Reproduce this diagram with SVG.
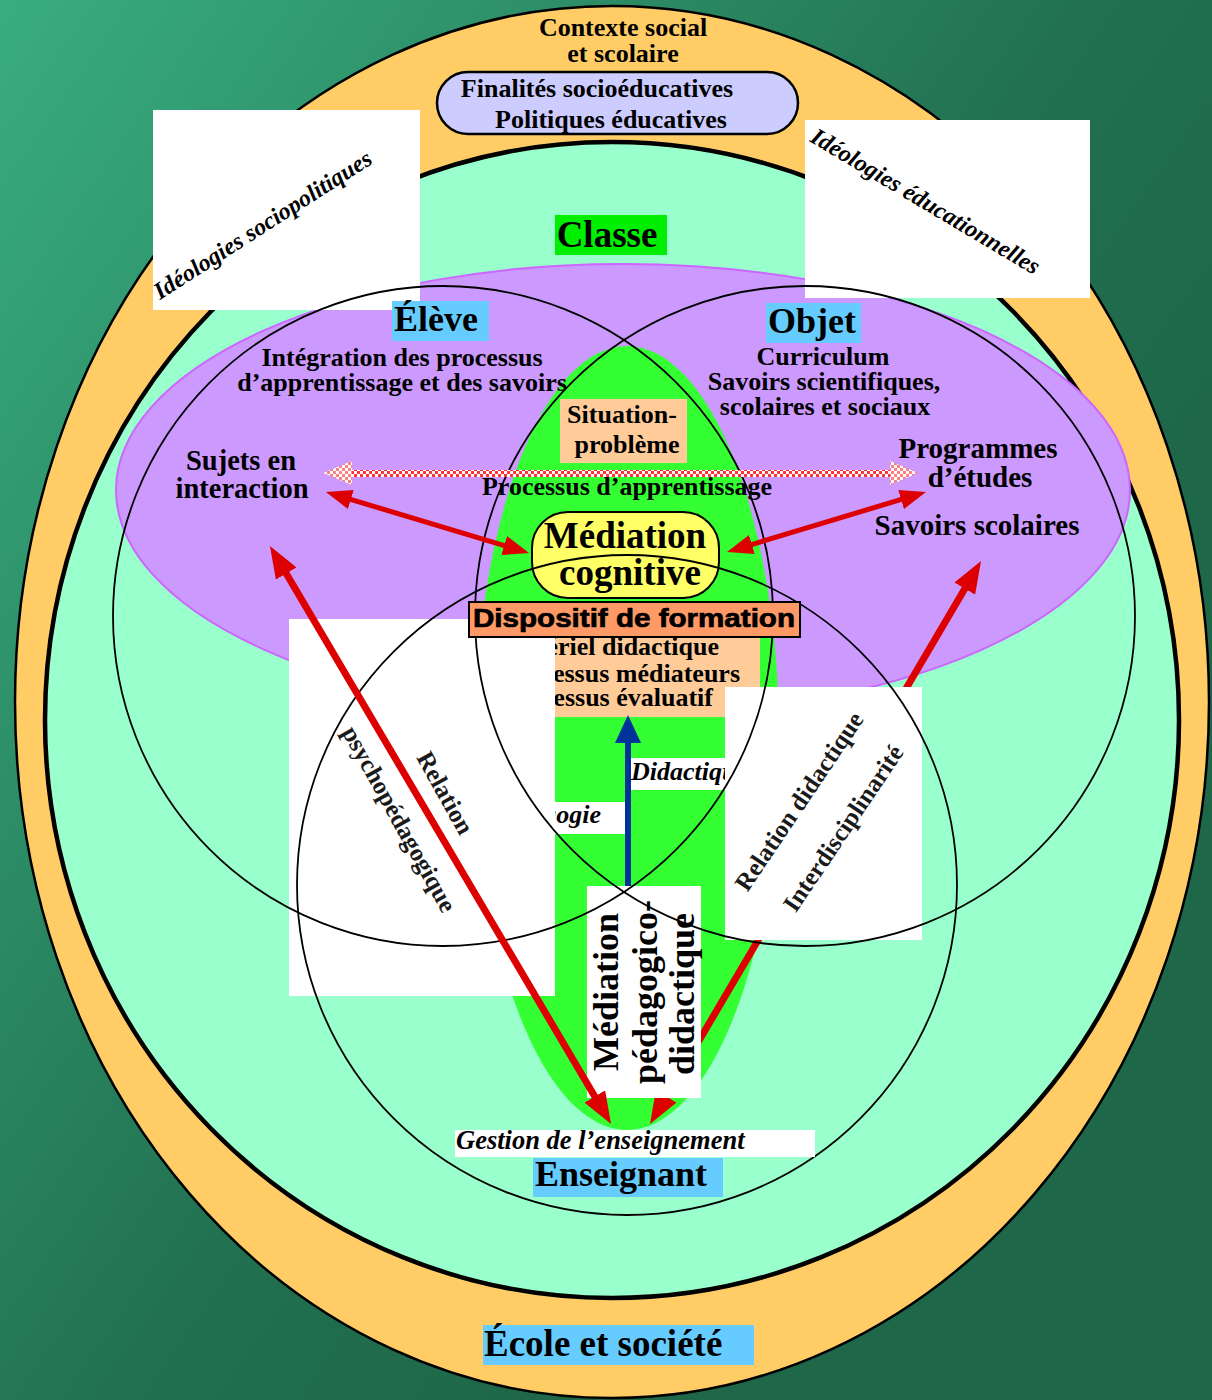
<svg xmlns="http://www.w3.org/2000/svg" width="1212" height="1400" viewBox="0 0 1212 1400">
<defs>
<linearGradient id="bg" gradientUnits="userSpaceOnUse" x1="0" y1="0" x2="1000" y2="700">
<stop offset="0" stop-color="#39ad80"/>
<stop offset="0.75" stop-color="#21704f"/>
<stop offset="1" stop-color="#1e6849"/>
</linearGradient>
<pattern id="chk" width="6" height="6" patternUnits="userSpaceOnUse">
<rect width="6" height="6" fill="#ffffff"/>
<rect width="3" height="3" fill="#ff3333"/>
<rect x="3" y="3" width="3" height="3" fill="#ff3333"/>
</pattern>
<pattern id="chk2" width="6" height="6" patternUnits="userSpaceOnUse">
<rect width="6" height="6" fill="#ffffff"/>
<rect width="3" height="3" fill="#ff8080"/>
<rect x="3" y="3" width="3" height="3" fill="#ff8080"/>
</pattern>
<marker id="rh" markerUnits="userSpaceOnUse" markerWidth="32" markerHeight="24" refX="2" refY="12" orient="auto-start-reverse">
<path d="M0,0 L32,12 L0,24 z" fill="#dd0000"/>
</marker>
<marker id="rh2" markerUnits="userSpaceOnUse" markerWidth="26" markerHeight="20" refX="2" refY="10" orient="auto-start-reverse">
<path d="M0,0 L26,10 L0,20 z" fill="#dd0000"/>
</marker>
<style>
.t{font-family:"Liberation Serif","Times New Roman",serif;font-weight:bold;fill:#000}
.i{font-style:italic}
.m{text-anchor:middle}
.e{text-anchor:end}
.s26{font-size:26px}
.s29{font-size:29px}
.s36{font-size:37px}
.wb{fill:#ffffff}
.lbl{fill:#66ccff}
.venn{fill:none;stroke:#000;stroke-width:1.8}
.red{stroke:#dd0000;fill:none}
.rot{font-size:25px;fill:#1a1a1a}
</style>
</defs>

<rect id="background" x="0" y="0" width="1212" height="1400" fill="url(#bg)"/>

<g id="ecole">
<ellipse cx="612" cy="702" rx="597" ry="696" fill="#ffcc66" stroke="#000" stroke-width="2.5"/>
<text class="t s26 m" x="623" y="36">Contexte social</text>
<text class="t s26 m" x="623" y="62">et scolaire</text>
</g>

<g id="finalites">
<rect x="437" y="72" width="361" height="62" rx="31" ry="31" fill="#ccccff" stroke="#000" stroke-width="2.5"/>
<text class="t s26 m" x="597" y="97">Finalités socioéducatives</text>
<text class="t s26 m" x="611" y="128">Politiques éducatives</text>
</g>

<g id="classe">
<ellipse cx="612" cy="720" rx="567" ry="578" fill="#99ffcc" stroke="#000" stroke-width="4.5"/>
<rect x="555" y="215" width="112" height="40" fill="#00ee00"/>
<text class="t m" x="607" y="247" font-size="37">Classe</text>
</g>

<g id="zone-eleve-objet">
<ellipse cx="623" cy="490" rx="507" ry="226" fill="#cc99ff" stroke="#cc66ff" stroke-width="2"/>
</g>

<g id="zone-mediation">
<ellipse cx="627" cy="738" rx="152" ry="392" fill="#33ff33"/>
</g>

<g id="ideologies-sociopolitiques">
<rect class="wb" x="153" y="110" width="267" height="200"/>
<text class="t i" font-size="24" fill="#111" transform="translate(160,300) rotate(-32.7)">Idéologies sociopolitiques</text>
</g>

<g id="ideologies-educationnelles">
<rect class="wb" x="805" y="120" width="285" height="178"/>
<text class="t i" font-size="24" fill="#111" transform="translate(809,141) rotate(30.8)">Idéologies éducationnelles</text>
</g>

<g id="situation-probleme">
<rect x="560" y="399" width="127" height="64" fill="#ffcc99"/>
<text class="t s26 m" x="622" y="423">Situation-</text>
<text class="t s26 m" x="627" y="453">problème</text>
</g>

<g id="processus">
<text class="t s26 m" x="627" y="495">Processus d’apprentissage</text>
</g>

<g id="eleve">
<rect class="lbl" x="392" y="301" width="97" height="40"/>
<text class="t m" x="436" y="331" font-size="36">Élève</text>
<text class="t s26 m" x="402" y="366">Intégration des processus</text>
<text class="t s26 m" x="402" y="391">d’apprentissage et des savoirs</text>
<text class="t m" x="241" y="470" font-size="28.5">Sujets en</text>
<text class="t m" x="242" y="498" font-size="28.5">interaction</text>
</g>

<g id="objet">
<rect class="lbl" x="766" y="303" width="95" height="40"/>
<text class="t m" x="812" y="333" font-size="36">Objet</text>
<text class="t s26 m" x="823" y="365">Curriculum</text>
<text class="t s26 m" x="824" y="390">Savoirs scientifiques,</text>
<text class="t s26 m" x="825" y="415">scolaires et sociaux</text>
<text class="t s29 m" x="978" y="458">Programmes</text>
<text class="t s29 m" x="980" y="487">d’études</text>
<text class="t s29 m" x="977" y="535">Savoirs scolaires</text>
</g>

<g id="mediation-cognitive">
<rect x="532" y="512" width="187" height="86" rx="36" ry="36" fill="#ffff66" stroke="#000" stroke-width="2"/>
<text class="t s36 m" x="625" y="548">Médiation</text>
<text class="t s36 m" x="630" y="585">cognitive</text>
</g>

<g id="dispositif-contenu">
<rect x="470" y="636" width="290" height="81" fill="#ffcc99"/>
<text class="t s26 e" x="719" y="655">Matériel didactique</text>
<text class="t s26 e" x="740" y="682">Processus médiateurs</text>
<text class="t s26 e" x="713" y="706">Processus évaluatif</text>
</g>

<g id="didactique">
<rect class="wb" x="630" y="758" width="95" height="32"/>
<text class="t i s26" x="631" y="780">Didactique</text>
</g>

<g id="pedagogie">
<rect class="wb" x="480" y="802" width="145" height="32"/>
<text class="t i s26 e" x="601" y="823">Pédagogie</text>
</g>

<g id="connectors-under">
<line class="red" x1="665.2" y1="1098.1" x2="965.8" y2="586.9" stroke-width="7" marker-start="url(#rh)" marker-end="url(#rh)"/>
</g>

<g id="relation-psychopedagogique">
<rect class="wb" x="289" y="619" width="266" height="377"/>
<text class="t rot m" transform="translate(438,797) rotate(61)">Relation</text>
<text class="t rot m" transform="translate(392,823) rotate(61)">psychopédagogique</text>
</g>

<g id="relation-didactique">
<rect class="wb" x="725" y="687" width="197" height="253"/>
<text class="t rot m" transform="translate(806,806) rotate(-56)">Relation didactique</text>
<text class="t rot m" transform="translate(850,833) rotate(-56)">Interdisciplinarité</text>
</g>

<g id="mediation-pedagogico-didactique">
<rect class="wb" x="587" y="886" width="114" height="212"/>
<text class="t m" font-size="36" transform="translate(618,992) rotate(-90)">Médiation</text>
<text class="t m" font-size="36" transform="translate(657,992) rotate(-90)">pédagogico-</text>
<text class="t m" font-size="36" transform="translate(694,994) rotate(-90)">didactique</text>
</g>

<g id="venn">
<circle class="venn" cx="443" cy="616" r="330"/>
<circle class="venn" cx="805" cy="616" r="330"/>
<circle class="venn" cx="627" cy="885" r="330"/>
</g>

<g id="dispositif">
<rect x="469" y="602" width="331" height="35" fill="#ff9966" stroke="#000" stroke-width="2"/>
<text x="634" y="627" text-anchor="middle" font-family="Liberation Sans, Arial, sans-serif" font-weight="bold" font-size="26" stroke="#000" stroke-width="0.7" textLength="322" lengthAdjust="spacingAndGlyphs">Dispositif de formation</text>
</g>

<g id="connectors">
<line class="red" x1="285.2" y1="571.8" x2="595.8" y2="1098.2" stroke-width="7" marker-start="url(#rh)" marker-end="url(#rh)"/>
<line class="red" x1="348.9" y1="498.9" x2="506.1" y2="546.1" stroke-width="5" marker-start="url(#rh2)" marker-end="url(#rh2)"/>
<line class="red" x1="750" y1="545.1" x2="903" y2="498.9" stroke-width="5" marker-start="url(#rh2)" marker-end="url(#rh2)"/>
<rect x="351" y="470" width="540" height="7" fill="url(#chk)"/>
<polygon points="323,473 352,461 352,485" fill="url(#chk2)"/>
<polygon points="918,473 890,461 890,485" fill="url(#chk2)"/>
<line x1="628" y1="886" x2="628" y2="740" stroke="#003399" stroke-width="6"/>
<polygon points="615,743 628,715 641,743" fill="#003399"/>
</g>

<g id="enseignant">
<rect class="wb" x="455" y="1130" width="360" height="27"/>
<text class="t i" x="456" y="1149" font-size="26.5">Gestion de l’enseignement</text>
<rect class="lbl" x="533" y="1158" width="190" height="39"/>
<text class="t" x="535" y="1186" font-size="36">Enseignant</text>
</g>

<g id="ecole-societe">
<rect class="lbl" x="483" y="1325" width="271" height="40"/>
<text class="t" x="484" y="1356" font-size="37">École et société</text>
</g>
</svg>
